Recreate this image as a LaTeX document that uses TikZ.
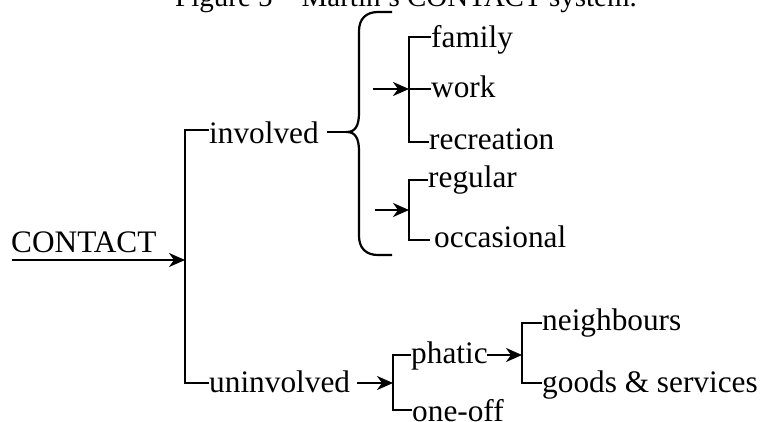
\documentclass[tikz,border=0pt]{standalone}
\usepackage{fontspec}
\setmainfont{Liberation Serif}
\usetikzlibrary{arrows.meta}
\begin{document}
\begin{tikzpicture}[x=1pt,y=-1pt,
  txt/.style={anchor=base west,inner sep=0pt,font=\fontsize{31.3}{36}\selectfont},
  ln/.style={line width=2.2pt,line cap=butt,line join=miter},
  arr/.style={ln,-{Stealth[length=16pt,width=14pt,inset=5pt]}}]
\useasboundingbox (0,0) rectangle (766,421);
% title (cut off at the top)
\node[anchor=base,inner sep=0pt,font=\fontsize{29}{34}\selectfont] (title) at (406,6) {Figure 5 – Martin's CONTACT system.};
% texts
\node[txt] (contact) at (11,252) {CONTACT};
\node[txt] (involved) at (209,143) {involved};
\node[txt] (uninvolved) at (209,392) {uninvolved};
\node[txt] (family) at (431,47) {family};
\node[txt] (work) at (431,97) {work};
\node[txt] (recreation) at (429,149) {recreation};
\node[txt] (regular) at (428,187) {regular};
\node[txt] (occasional) at (434,247) {occasional};
\node[txt] (phatic) at (411,363) {phatic};
\node[txt] (oneoff) at (412,421) {one-off};
\node[txt] (neighbours) at (542,330) {neighbours};
\node[txt] (goods) at (542,392) {goods \& services};
% coordinates
\coordinate (cin) at (12,260);
\coordinate (j1) at (185,260);
\coordinate (tI) at (185,130);
\coordinate (tU) at (185,383);
\coordinate (iout) at (327,132);
\coordinate (cusp) at (347,132);
\coordinate (a1s) at (373,89);
\coordinate (a1e) at (409,89);
\coordinate (v1t) at (409,37);
\coordinate (v1b) at (409,142);
\coordinate (a2s) at (375,210);
\coordinate (a2e) at (409,210);
\coordinate (v2t) at (409,180);
\coordinate (v2b) at (409,240);
\coordinate (uout) at (357,383);
\coordinate (a3e) at (393,383);
\coordinate (v3t) at (393,355);
\coordinate (v3b) at (393,410);
\coordinate (pout) at (487,355);
\coordinate (a4e) at (522,355);
\coordinate (v4t) at (522,323);
\coordinate (v4b) at (522,383);
% main
\draw[arr] (cin) -- (j1);
\draw[ln] (tI -| involved.west) -- (tI) -- (tU) -- (tU -| uninvolved.west);
% involved brace
\draw[ln] (iout) -- (cusp);
\draw[ln] (392,12) -- (378,12) .. controls (366,12) and (359,19) .. (359,31)
  -- (359,113) .. controls (359,126) and (355,132) .. (cusp)
  .. controls (355,132) and (359,138) .. (359,151)
  -- (359,236) .. controls (359,248) and (366,255) .. (378,255) -- (392,255);
% upper group
\draw[ln] (v1t -| family.west) -- (v1t) -- (v1b) -- (v1b -| recreation.west);
\draw[ln] (a1e) -- (a1e -| work.west);
\draw[arr] (a1s) -- (a1e);
% lower group
\draw[ln] (v2t -| regular.west) -- (v2t) -- (v2b) -- (430,240);
\draw[arr] (a2s) -- (a2e);
% uninvolved group
\draw[arr] (uout) -- (a3e);
\draw[ln] (v3t -| phatic.west) -- (v3t) -- (v3b) -- (v3b -| oneoff.west);
\draw[arr] (pout) -- (a4e);
\draw[ln] (v4t -| neighbours.west) -- (v4t) -- (v4b) -- (v4b -| goods.west);
\end{tikzpicture}
\end{document}
